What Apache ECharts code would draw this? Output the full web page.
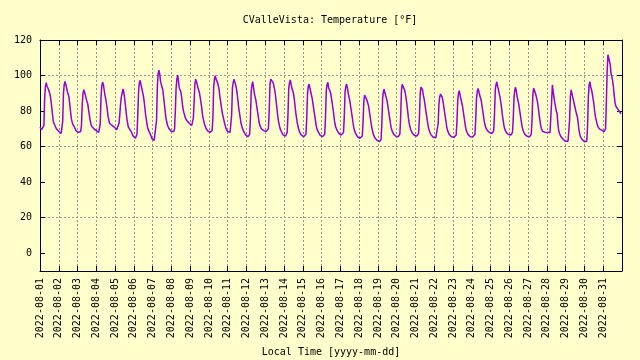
<!DOCTYPE html>
<html><head><meta charset="utf-8">
<script src="https://cdn.jsdelivr.net/npm/echarts@6/dist/echarts.min.js"></script>
<style>html,body{margin:0;padding:0;background:#ffffcc}#c{width:640px;height:360px}</style>
</head><body><div id="c"></div><script>
// Tick labels / categories
const dates = ['2022-08-01','2022-08-02','2022-08-03','2022-08-04','2022-08-05','2022-08-06','2022-08-07','2022-08-08','2022-08-09','2022-08-10','2022-08-11','2022-08-12','2022-08-13','2022-08-14','2022-08-15','2022-08-16','2022-08-17','2022-08-18','2022-08-19','2022-08-20','2022-08-21','2022-08-22','2022-08-23','2022-08-24','2022-08-25','2022-08-26','2022-08-27','2022-08-28','2022-08-29','2022-08-30','2022-08-31'];
const yTicks = [0,20,40,60,80,100,120];
const titleText = 'CValleVista: Temperature [°F]';
const xTitle = 'Local Time [yyyy-mm-dd]';

// Hourly temperatures (°F), hour 0..23 of each day
const d01 = [71,70,69.5,69,69,72,88,94,96,94,93,92,91,89,86,82,78,74,73,72,71,70,69.5,69];
const d02 = [68.5,68,67.5,67.5,68,74,90,95,96.7,95,93,91,90,88,84,80,76,74,72.5,72,71,70,69,68.5];
const d03 = [68,68,68.5,68,68.5,72,84,90,92,91,89,87,86,84,81,78,75,73,71.5,71,70.5,70,69.5,69];
const d04 = [69,68.5,68,68,68.5,73,88,94,96.3,95,92,89,87,84,81,77,75,73,72.5,72,72,71.5,71,71];
const d05 = [70.5,70,69.5,69,69.5,73,78,84,88,90,92.5,91,88,84,80,76,73,71,70,69.5,69,68,67,66];
const d06 = [65.5,65,64.7,65,67,78,91,96,97.3,95,93,92,89,86,82,78,75,72,70,69,68,67,66,64.5];
const d07 = [64.5,64,63.5,63,63.5,75,94,101,103,101,97,95,94,92,88,84,80,76,74,72,71,70,69.5,69];
const d08 = [68.5,68,68,68.5,70,80,93,98,100.3,97,93,92,91,88,84,81,79,78,76,75,74.5,74,73.5,73];
const d09 = [72.5,72,72,72.5,76,85,95,98,97,95,93,92,90,87,84,81,77,75,73,72,70.5,70,69,68.5];
const d10 = [68,68,68,68.5,69,76,93,98,100,98,98,96,95,92,88,85,82,79,77,75,73,71.5,70,69];
const d11 = [68.5,68,68,68,69,78,93,96,98,97,95,93,90,86,82,79,76,73,71.5,70,69,68,67,66.5];
const d12 = [66,65.6,65.6,66,67,76,91,95,96.5,93,90,88,86,83,80,77,74,72,71,70,69.5,69,69,68.5];
const d13 = [68.5,68.5,68.5,69,70,80,95,98,99,97,96,94,92,89,85,81,77,74,72,70,69,68,67,66.5];
const d14 = [66,66,66,66.5,68,78,93,96,97.5,95,93,92,90,87,83,79,76,73,71,69.5,68,67,66.5,66];
const d15 = [65.8,65.6,65.6,66,67,76,90,94,95.2,93,91,89,87,84,81,78,75,72,70,69,68,67,66.5,66];
const d16 = [65.8,65.6,65.6,66,67,77,92,95,96.2,93,93,91,89,86,83,80,76,73,71,70,69,68,67.5,67];
const d17 = [66.8,66.5,66.5,67,68,77,91,94,95.2,93,90,88,86,83,80,77,74,71,69,68,67,66,65.5,65];
const d18 = [65,64.7,64.7,65,66,74,86,89,90,88,86,85,83,80,77,74,71,69,67,66,65,64.5,64,63.5];
const d19 = [63.2,63,62.8,63,64,73,87,91,92.3,90,89,87,85,82,79,76,73,70.5,69,68,67,66.5,66,65.8];
const d20 = [65.6,65.6,65.6,66,67,76,91,95,96,94,92,90,87,84,80,76,73,71,69.5,68.5,67.5,67,66.5,66.2];
const d21 = [66.2,66,66,66.2,67.5,76,90,93.5,94.5,92,89,87,84,81,78,75,72,70,68.5,67.5,66.5,66,65.5,65.2];
const d22 = [65.2,65,65,65,66,73,84,88,89.6,90,88,86,83,80,77,74,71,69,68,67,66.5,66,65.5,65.3];
const d23 = [65.3,65.2,65.2,65.5,66.5,74,86,90,91.5,89,87,86,83,80,77,74,71,69,68,67,66.5,66,65.5,65.4];
const d24 = [65.4,65.4,65.4,65.8,67,75,87,91,92.7,91,89,88,86,83,80,77,74,72,70.5,69.5,69,68.5,68,67.8];
const d25 = [67.8,67.5,67.5,68,69,78,92,95,96.5,94,92,90,88,85,82,78,75,72,70,69,68,67.5,67,66.8];
const d26 = [66.8,66.5,66.5,66.8,68,76,88,92,93.4,91,88,86,84,81,78,75,72,70,68.5,67.5,66.8,66.2,66,65.8];
const d27 = [65.8,65.6,65.6,66,67,75,89,93,94,92,89,87,85,82,78,75,72,70,69,68.5,68.2,68,68,68];
const d28 = [68,68,68,68,68,68,85,94.7,91,88,85,82.5,80,78.7,73,69.3,67.5,66.5,65.5,65,64.5,64,63.7,63.2];
const d29 = [63,62.8,62.8,63,64,75,88,91.9,90,88,86,84,82,80,78,76.8,73,69.3,67,65.5,64.7,64,63.5,63];
const d30 = [62.8,62,61.8,63,72,88,95,96.5,93.7,92,90,87,84.4,80,77,75,73,71.5,70.5,70,69.7,69.5,69.3,69];
const d31 = [68.8,68.4,68.4,70,85,102,111.7,110,108,106,101,99.4,97,93.7,89,85,83,82.5,81.5,81,80.6,79.5,78.7,78.5];

const dayArrays = [d01,d02,d03,d04,d05,d06,d07,d08,d09,d10,d11,d12,d13,d14,d15,d16,d17,d18,d19,d20,d21,d22,d23,d24,d25,d26,d27,d28,d29,d30,d31];
const seriesData = [];
dayArrays.forEach((arr, d) => arr.forEach((v, h) => seriesData.push([d * 24 + h, v])));

const FONT = '"DejaVu Sans Mono", monospace';
const GRID = '#959598';
const chart = echarts.init(document.getElementById('c'), null, {renderer: 'canvas'});
const xMax = dates.length * 24;
chart.setOption({
  backgroundColor: '#ffffcc',
  animation: false,
  graphic: [{
    type: 'text', x: 330, y: 20,
    style: {text: titleText, font: '10px ' + FONT, fill: '#000', textAlign: 'center', textVerticalAlign: 'middle'}
  }],
  grid: {left: 40, top: 40, width: 582, height: 231, containLabel: false, outerBoundsMode: 'none'},
  xAxis: [{
    type: 'value', min: 0, max: xMax, interval: 24, position: 'bottom',
    name: xTitle, nameLocation: 'middle', nameGap: 76,
    nameTextStyle: {fontFamily: FONT, fontSize: 10, color: '#000'},
    axisLine: {show: true, onZero: false, lineStyle: {color: '#000', width: 1}},
    axisTick: {show: true, inside: true, length: 5, lineStyle: {color: '#000'}},
    axisLabel: {rotate: 90, margin: 7, fontFamily: FONT, fontSize: 10, color: '#000',
      showMaxLabel: false, formatter: v => dates[Math.round(v / 24)] || ''},
    splitLine: {show: true, lineStyle: {color: GRID, type: [2, 2], width: 1}}
  }, {
    type: 'value', min: 0, max: xMax, interval: 24, position: 'top',
    axisLine: {show: true, onZero: false, lineStyle: {color: '#000', width: 1}},
    axisTick: {show: true, inside: true, length: 5, lineStyle: {color: '#000'}},
    axisLabel: {show: false}, splitLine: {show: false}
  }],
  yAxis: [{
    type: 'value', min: -10, max: 120, interval: 10, position: 'left',
    axisLine: {show: true, onZero: false, lineStyle: {color: '#000', width: 1}},
    axisTick: {show: true, inside: true, length: 5, customValues: yTicks, lineStyle: {color: '#000'}},
    axisLabel: {margin: 8, fontFamily: FONT, fontSize: 10, color: '#000', customValues: yTicks,
      formatter: v => (v % 20 === 0 ? String(v) : '')},
    splitLine: {show: true, lineStyle: {color: ['rgba(0,0,0,0)', GRID], type: [2, 2], width: 1}}
  }, {
    type: 'value', min: -10, max: 120, interval: 10, position: 'right',
    axisLine: {show: true, onZero: false, lineStyle: {color: '#000', width: 1}},
    axisTick: {show: true, inside: true, length: 5, customValues: yTicks, lineStyle: {color: '#000'}},
    axisLabel: {show: false}, splitLine: {show: false}
  }],
  series: [{
    type: 'line', xAxisIndex: 0, yAxisIndex: 0, data: seriesData,
    showSymbol: false, symbol: 'none',
    lineStyle: {color: '#9400d3', width: 1.5},
    itemStyle: {color: '#9400d3'}
  }]
});
</script></body></html>
